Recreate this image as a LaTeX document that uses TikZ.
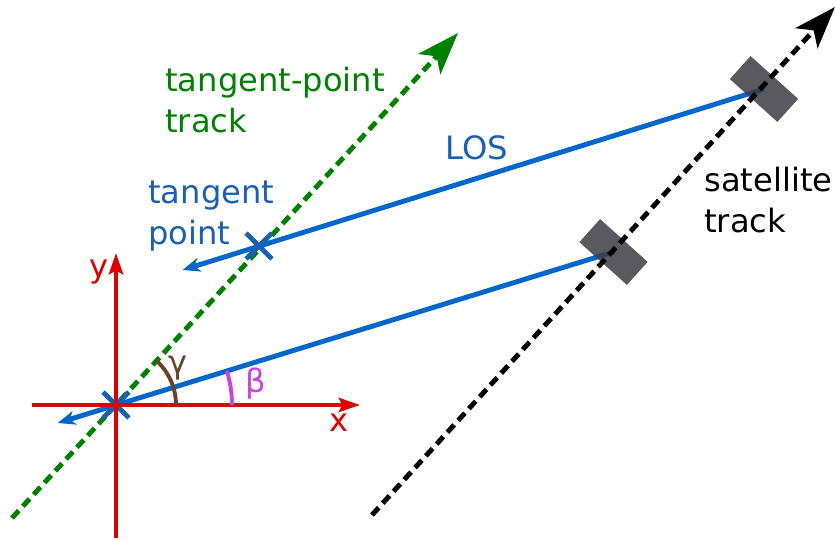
\documentclass[tikz,border=0pt]{standalone}
\usepackage{fontspec}
\setmainfont{DejaVu Sans}
\usepackage{xcolor}
\definecolor{axisred}{HTML}{DD0000}
\definecolor{trackgreen}{HTML}{008000}
\definecolor{losblue}{HTML}{0066CC}
\definecolor{labelblue}{HTML}{1A5FB4}
\definecolor{gammabrown}{HTML}{6B4226}
\definecolor{betamagenta}{HTML}{CC44DD}
\definecolor{satgrey}{HTML}{3D3C44}
\usepackage{tikz}
\usetikzlibrary{positioning, arrows.meta, shapes.misc}

\begin{document}
\begin{tikzpicture}[x=0.02cm, y=0.02cm,
  font=\fontsize{18.3pt}{23.3pt}\selectfont,
  trackline/.style={line width=2.8pt, dash pattern=on 5.7pt off 3.4pt,
    -{Stealth[length=24pt, width=17pt, inset=6pt]}},
  axisline/.style={line width=2.8pt, color=axisred, -{Stealth[length=12pt, width=8pt, inset=2pt]}},
  losline/.style={line width=2.8pt, color=losblue, {Stealth[length=10pt, width=8pt, inset=3pt]}-},
  tpmark/.style={cross out, draw=labelblue, line width=2.8pt, minimum size=0.42cm, inner sep=0pt},
  satellite/.style={rectangle, fill=satgrey, fill opacity=0.85, minimum width=1.28cm,
    minimum height=0.62cm, rotate=-42},
  textlabel/.style={inner sep=0pt, align=left}]
  \useasboundingbox (0,0) rectangle (835,540);
  \coordinate (O) at (116,135);
  \coordinate (T) at (259,294);
  \coordinate (s1) at (613.5,288);
  \coordinate (s2) at (764,451);
  \coordinate (Oback) at (57.8,117);
  \coordinate (Tback) at (182.6,270);
  \coordinate (greenA) at (12,22);
  \coordinate (greenB) at (458,507);
  \coordinate (blackA) at (372,25);
  \coordinate (blackB) at (835,533);
  \coordinate (xneg) at (32,135);
  \coordinate (xpos) at (360,135);
  \coordinate (yneg) at (116,2);
  \coordinate (ypos) at (116,287);
  \draw[trackline, color=trackgreen] (greenA) -- (greenB);
  \draw[losline] (Oback) -- (s1);
  \draw[losline] (Tback) -- (s2);
  \node[tpmark] (Omark) at (O) {};
  \node[tpmark] (Tmark) at (T) {};
  \draw[axisline] (xneg) -- (xpos);
  \draw[axisline] (yneg) -- (ypos);
  \draw[line width=2.2pt, color=gammabrown] ([shift={(0:60)}]O) arc[start angle=0, end angle=47.5, radius=60];
  \draw[line width=2.2pt, color=betamagenta] ([shift={(0:116)}]O) arc[start angle=0, end angle=17.1, radius=116];
  \node[satellite] (sat1) at (s1) {};
  \node[satellite] (sat2) at (s2) {};
  \draw[trackline, color=black] (blackA) -- (blackB);
  \node[textlabel, text=axisred] (ylab) at (99,268) {y};
  \node[textlabel, text=axisred] (xlab) at (339,117) {x};
  \node[textlabel, text=gammabrown] (gammalab) at (178,172) {γ};
  \node[textlabel, text=betamagenta] (betalab) at (256,156) {β};
  \node[textlabel, text=labelblue] (loslab) at (477,392) {LOS};
  \node[textlabel, text=labelblue, anchor=west] (tplab) at (148,324) {tangent\\point};
  \node[textlabel, text=trackgreen, anchor=west] (tptracklab) at (165,440) {tangent-point\\track};
  \node[textlabel, anchor=west] (sattracklab) at (704,340) {satellite\\track};
\end{tikzpicture}
\end{document}
